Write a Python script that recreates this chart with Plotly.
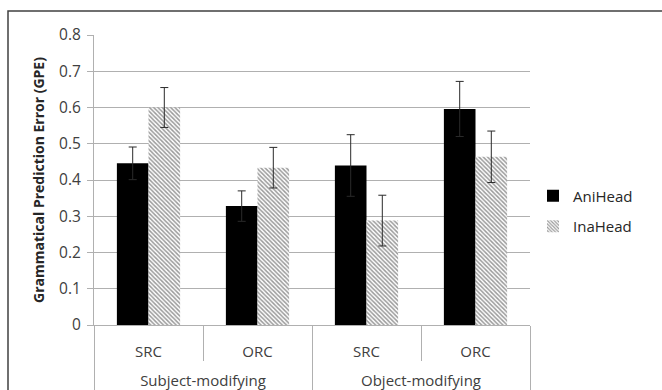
import plotly.graph_objects as go

groups = ["<br>Subject-modifying", "<br>Subject-modifying", "<br>Object-modifying", "<br>Object-modifying"]
clauses = ["SRC", "ORC", "SRC", "ORC"]
ani_vals = [0.446, 0.328, 0.440, 0.596]
ani_err = [0.045, 0.042, 0.085, 0.076]
ina_vals = [0.600, 0.434, 0.288, 0.464]
ina_err = [0.055, 0.056, 0.070, 0.071]

W, H = 662, 390
ML, MR, MT, MB = 94, 132, 35, 65

font_fam = "'Open Sans', 'Noto Sans', sans-serif"
err_style = dict(type="data", visible=True, color="#2a2a2a", thickness=1, width=4)

fig = go.Figure()
fig.add_trace(go.Bar(
    x=[groups, clauses], y=ani_vals, name="AniHead",
    marker=dict(color="black", line=dict(width=0)),
    error_y=dict(array=ani_err, **err_style),
    legendgroup="a",
))
fig.add_trace(go.Bar(
    x=[groups, clauses], y=ina_vals, name="InaHead",
    marker=dict(color="white", line=dict(width=0),
                pattern=dict(shape="\\", fgcolor="#363636", bgcolor="white", size=3, solidity=0.5)),
    error_y=dict(array=ina_err, **err_style),
    legendgroup="b",
))

# outer chart border (pixel positions converted to paper coords)
pw, ph = W - ML - MR, H - MT - MB
def px_x(p): return (p - ML) / pw
def px_y(p): return 1 - (p - MT) / ph
fig.add_shape(type="rect", xref="paper", yref="paper",
              x0=px_x(8), x1=px_x(670), y0=px_y(11), y1=px_y(400),
              line=dict(color="#404040", width=1.5), layer="below")

fig.update_layout(
    width=W, height=H,
    margin=dict(l=ML, r=MR, t=MT, b=MB, autoexpand=False),
    paper_bgcolor="white", plot_bgcolor="white",
    barmode="group", bargap=0.42, bargroupgap=0,
    font=dict(family=font_fam, color="#404040"),
    showlegend=True,
    legend=dict(x=px_x(533), y=px_y(211), xanchor="left", yanchor="middle",
                font=dict(size=15, color="#262626", family=font_fam),
                tracegroupgap=8, bgcolor="rgba(0,0,0,0)"),
)
fig.update_yaxes(
    automargin=False,
    range=[0, 0.8], dtick=0.1, tick0=0,
    showgrid=True, gridcolor="#b0b0b0", gridwidth=1,
    showline=True, linecolor="#b0b0b0", linewidth=1,
    ticks="outside", ticklen=6, tickcolor="#b0b0b0",
    tickfont=dict(size=15.5, color="#404040", family=font_fam),
    ticklabelstandoff=3,
    zeroline=False,
    title=dict(text="<b>Grammatical Prediction Error (GPE)</b>",
               font=dict(size=14, color="#262626", family=font_fam), standoff=11),
)
fig.update_xaxes(
    automargin=False,
    type="multicategory",
    showline=True, linecolor="#b0b0b0", linewidth=1,
    ticks="outside", tickson="boundaries", ticklen=35, tickcolor="#b0b0b0",
    showdividers=True, dividercolor="#b0b0b0", dividerwidth=1,
    tickfont=dict(size=15, color="#404040", family=font_fam),
    ticklabelstandoff=13,
    showgrid=False,
)

fig.write_html("out.html", config={"displayModeBar": False},
               post_script="document.body.style.margin='0px';")
